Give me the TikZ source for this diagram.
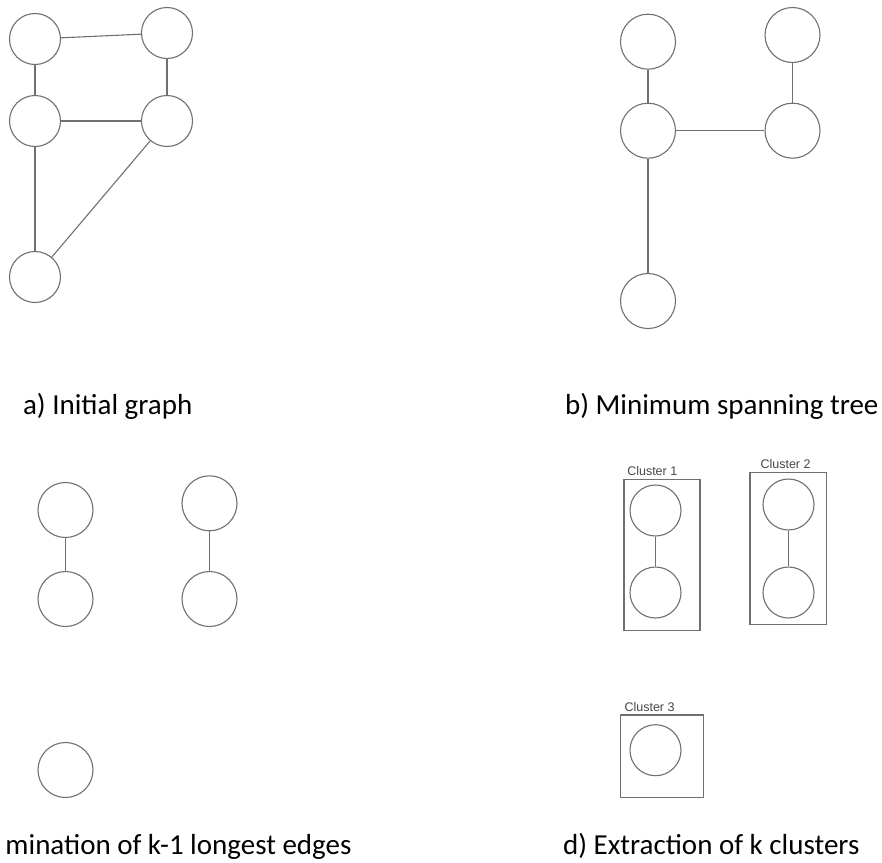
\documentclass[tikz,border=0pt]{standalone}
\usepackage{fontspec}
\setmainfont{Carlito}
\newfontfamily\clfont{Liberation Sans}
\definecolor{linegray}{RGB}{112,112,112}
\definecolor{labelgray}{RGB}{70,70,70}
\begin{document}
\begin{tikzpicture}[x=1pt,y=-1pt,line width=1.1pt]
  \tikzstyle{vtx}=[draw=linegray,circle,inner sep=0pt,minimum size=51pt]
  \tikzstyle{bigvtx}=[vtx,minimum size=55pt]
  \tikzstyle{edge}=[draw=linegray]
  \tikzstyle{cbox}=[draw=linegray,rectangle,inner sep=0pt]
  \tikzstyle{caption}=[inner sep=0pt,font=\fontsize{29}{34}\selectfont]
  \tikzstyle{clabel}=[inner sep=0pt,anchor=base west,text=labelgray,font=\clfont\fontsize{12.5}{14}\selectfont]
  \useasboundingbox (0,0) rectangle (882,862);
  % a) initial graph
  \node[vtx] (a1) at (35,39) {};
  \node[vtx] (a2) at (167,33) {};
  \node[vtx] (a3) at (35,121) {};
  \node[vtx] (a4) at (167,121) {};
  \node[vtx] (a5) at (35,277) {};
  \draw[edge] (a1) -- (a2);
  \draw[edge] (a1) -- (a3);
  \draw[edge] (a2) -- (a4);
  \draw[edge] (a3) -- (a4);
  \draw[edge] (a3) -- (a5);
  \draw[edge] (a4) -- (a5);
  \node[caption,anchor=base west] (capa) at (22.5,414) {a) Initial graph};
  % b) spanning tree
  \node[bigvtx] (b1) at (648,41.7) {};
  \node[bigvtx] (b2) at (792.5,35) {};
  \node[bigvtx] (b3) at (648,130.7) {};
  \node[bigvtx] (b4) at (792.5,130.7) {};
  \node[bigvtx] (b5) at (648,301) {};
  \draw[edge] (b1) -- (b3);
  \draw[edge] (b2) -- (b4);
  \draw[edge] (b3) -- (b4);
  \draw[edge] (b3) -- (b5);
  \node[caption,anchor=base east] (capb) at (879,414) {b) Minimum spanning tree};
  % c) longest edges removed
  \node[bigvtx] (c1) at (65.5,510) {};
  \node[bigvtx] (c2) at (209.5,503.3) {};
  \node[bigvtx] (c3) at (65.5,599) {};
  \node[bigvtx] (c4) at (209.5,599) {};
  \node[bigvtx] (c5) at (65.5,770) {};
  \draw[edge] (c1) -- (c3);
  \draw[edge] (c2) -- (c4);
  \node[caption,anchor=base east] (capc) at (352,854) {mination of k-1 longest edges};
  % d) clusters
  \node[cbox,minimum width=76pt,minimum height=151.4pt] (k1) at (662,555) {};
  \node[cbox,minimum width=76.7pt,minimum height=151.6pt] (k2) at (788.35,548.5) {};
  \node[cbox,minimum width=82.6pt,minimum height=82.3pt] (k3) at (662,756.15) {};
  \node[clabel] (l1) at (626.7,475) {Cluster 1};
  \node[clabel] (l2) at (760,468) {Cluster 2};
  \node[clabel] (l3) at (624,711.7) {Cluster 3};
  \node[vtx] (d1) at (655.5,510.5) {};
  \node[vtx] (d2) at (655.5,592.5) {};
  \node[vtx] (d3) at (788.5,504.5) {};
  \node[vtx] (d4) at (788.5,592.5) {};
  \node[vtx] (d5) at (655.5,750.2) {};
  \draw[edge] (d1) -- (d2);
  \draw[edge] (d3) -- (d4);
  \node[caption,anchor=base east] (capd) at (860,854) {d) Extraction of k clusters};
\end{tikzpicture}
\end{document}
